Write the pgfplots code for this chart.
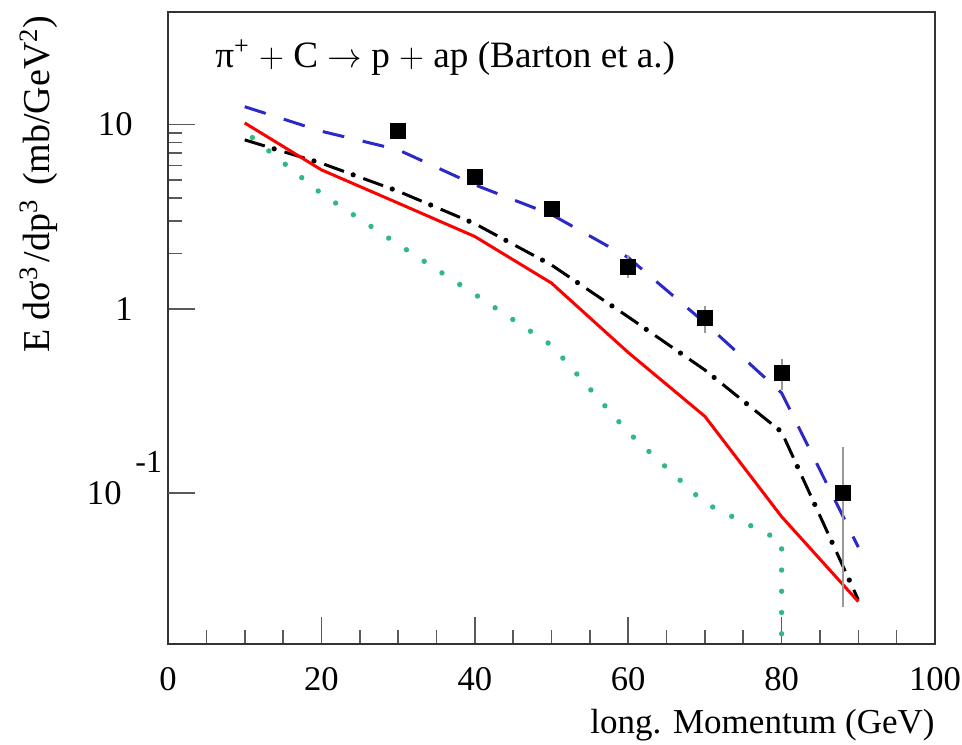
\documentclass[border=0pt]{standalone}
\usepackage{fontspec}
\setmainfont{Liberation Serif}
\usepackage{pgfplots}
\pgfplotsset{compat=1.18}
\definecolor{dblue}{RGB}{45,40,200}
\definecolor{dgreen}{RGB}{50,185,130}
\begin{document}
\begin{tikzpicture}
\begin{axis}[
  name=ax,
  scale only axis, width=383.5pt, height=316pt,
  at={(0,0)}, anchor=south west,
  xmin=0, xmax=100, ymode=log, ymin=0.0152, ymax=40.8,
  axis line style={black!80, line width=1pt},
  xtick={0,20,40,60,80,100}, minor x tick num=3,
  ytick={1,10}, yticklabels={1,10},
  extra y ticks={0.1}, extra y tick labels={10},
  extra y tick style={yticklabel style={xshift=-5.5pt}},
  tick align=inside, xtick pos=left, ytick pos=left,
  major tick length=13.5pt, minor tick length=7pt,
  every tick/.style={black!65, line width=0.8pt},
  tick label style={font=\fontsize{17.3}{20}\selectfont},
  /pgf/number format/assume math mode=true,
  xticklabel style={inner sep=0pt, anchor=north, yshift=-11.3pt},
  yticklabel style={inner sep=0pt, anchor=east, xshift=-17.5pt},
]
% blue dashed
\addplot[dblue, line width=1.5pt, dash pattern=on 11pt off 9.5pt] coordinates {
 (10,12.5) (20,9.2) (30,7.3) (40,4.71) (50,3.25) (60,1.90) (70,0.84) (80,0.35) (90,0.051)};
% green dotted
\addplot[dgreen, line width=2.7pt, line cap=round, dash pattern=on 0pt off 10.6pt] coordinates {
 (11,8.5) (20,4.22) (30,2.24) (40,1.2) (50,0.635) (60,0.214) (70,0.0883) (80,0.0551) (80,0.001)};
% black dash-dot: dashes
\addplot[black, line width=1.5pt, dash pattern=on 10.5pt off 10.3pt] coordinates {
 (10,8.26) (20,6.17) (30,4.35) (40,2.9) (50,1.73) (60,0.905) (70,0.466) (80,0.215) (90,0.0264)};
% black dash-dot: dots
\addplot[black, line width=2.6pt, line cap=round, dash pattern=on 0pt off 20.8pt, dash phase=5.4pt] coordinates {
 (10,8.26) (20,6.17) (30,4.35) (40,2.9) (50,1.73) (60,0.905) (70,0.466) (80,0.215) (90,0.0264)};
% red solid
\addplot[red, line width=1.5pt] coordinates {
 (10,10.2) (20,5.68) (30,3.75) (40,2.47) (50,1.38) (60,0.58) (70,0.261) (80,0.0746) (90,0.0258)};
% data
\addplot[only marks, mark=square*, mark size=3.75pt, black,
  error bars/.cd, y dir=both, y explicit,
  error bar style={black!40, line width=1pt}, error mark=none] coordinates {
 (30,9.24) +- (0,0)
 (40,5.22) +- (0,0)
 (50,3.47) +- (0,0.1)
 (60,1.70) += (0,0.26) -= (0,0.23)
 (70,0.897) += (0,0.14) -= (0,0.154)
 (80,0.448) += (0,0.085) -= (0,0.085)
 (88,0.101) += (0,0.078) -= (0,0.077)};
\end{axis}
\node[anchor=base west, font=\fontsize{16}{18}\selectfont, inner sep=0pt]
  at ([shift={(-16.5pt,85.5pt)}]ax.south west) {-1};
\node[anchor=base west, font=\fontsize{18.6}{22}\selectfont, inner sep=0pt]
  at ([shift={(23.5pt,-27.6pt)}]ax.north west) {π\textsuperscript{+} $+$ C $\rightarrow$ p $+$ ap (Barton et a.)};
\node[anchor=base east, font=\fontsize{17.5}{20}\selectfont, inner sep=0pt]
  at ([shift={(0pt,-44.5pt)}]ax.south east) {long. Momentum (GeV)};
\node[anchor=base east, rotate=90, font=\fontsize{19}{22}\selectfont, inner sep=0pt]
  at ([shift={(-59pt,-1.5pt)}]ax.north west) {E dσ\textsuperscript{3}\kern2pt/dp\textsuperscript{3}\kern2pt\ (mb/GeV\textsuperscript{2})};
\pgfresetboundingbox
\path[use as bounding box] ([shift={(-84pt,-50pt)}]ax.south west) rectangle ([shift={(13.5pt,6pt)}]ax.north east);
\end{tikzpicture}
\end{document}
